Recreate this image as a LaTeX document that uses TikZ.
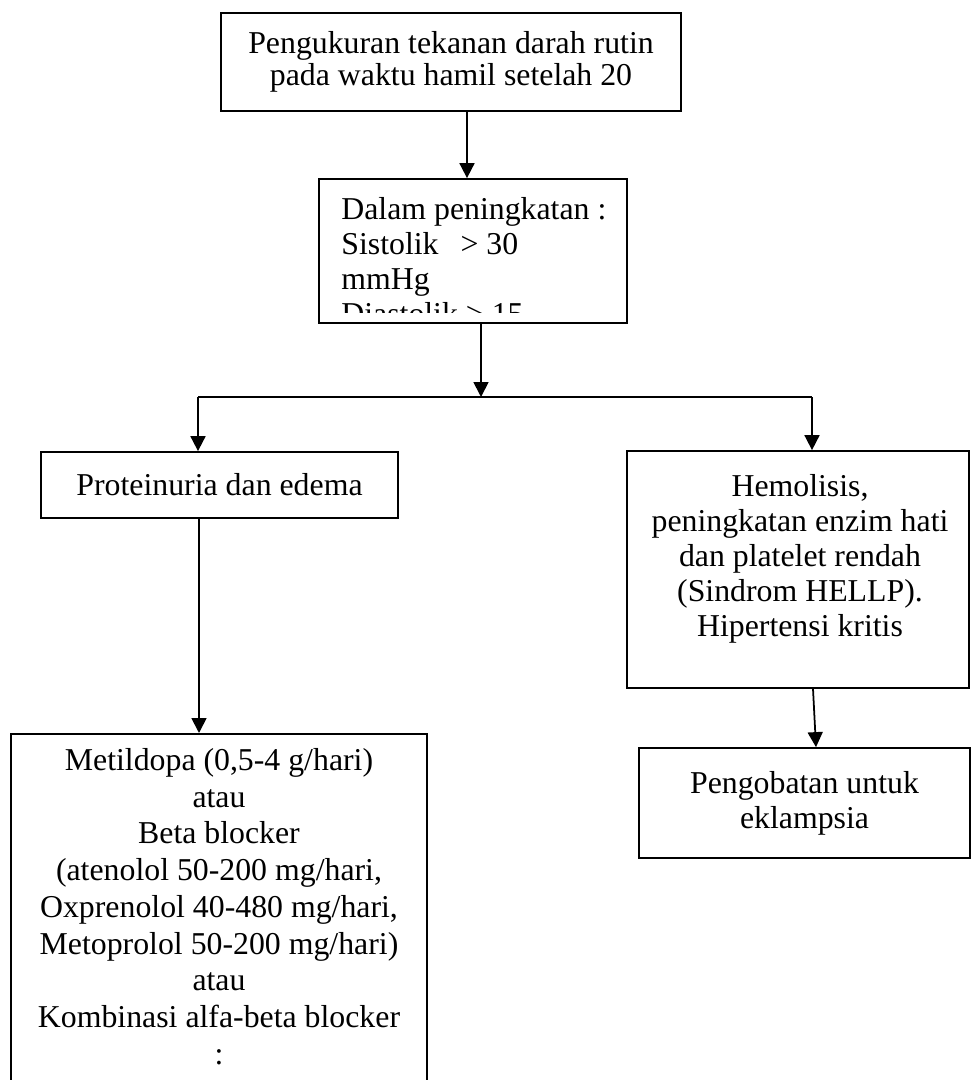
\documentclass[tikz,border=0pt]{standalone}
\usepackage{fontspec}
\setmainfont{Liberation Serif}
\usepackage{tikz}
\usetikzlibrary{arrows.meta}

\begin{document}
\begin{tikzpicture}[
    kotak/.style={draw, line width=1pt, inner sep=0pt, align=center},
    teks/.style={inner sep=0pt, align=center},
    panah/.style={line width=1pt, -{Triangle[length=3mm,width=3mm]}},
    font=\fontsize{18.1}{19.9}\selectfont]
\useasboundingbox (0,0) rectangle (19.42,-21.6);
            % kotak atas
            \node[kotak, minimum width=9.2cm, minimum height=1.96cm, font=\fontsize{18.1}{18.2}\selectfont] (ukur) at (9.02,-1.24)
                {Pengukuran tekanan darah rutin\\pada waktu hamil setelah 20};
            \node[kotak, minimum width=6.16cm, minimum height=2.88cm] (naik) at (9.46,-5.02) {};
            \begin{scope}
                \clip (6.38,-3.58) rectangle (12.54,-6.24);
                \node[inner sep=0pt, align=left, anchor=north west] (naiktxt) at (6.82,-3.94)
                    {Dalam peningkatan :\\Sistolik\hspace*{0.44cm}> 30\\mmHg\\Diastolik > 15};
            \end{scope}
            \draw [panah] ([xshift=3.2mm]ukur.south) -- ([xshift=3.2mm]ukur.south |- naik.north);
            % cabang
            \coordinate (cabang) at (9.62,-7.94);
            \coordinate (kiri) at (3.96,-7.94);
            \coordinate (kanan) at (16.24,-7.94);
            \draw [panah] ([xshift=1.6mm]naik.south) -- (cabang);
            \draw [line width=1pt] (kiri) -- (kanan);
            \node[kotak, minimum width=7.14cm, minimum height=1.32cm] (protein) at (4.39,-9.70) {Proteinuria dan edema};
            \node[kotak, minimum width=6.84cm, minimum height=4.74cm] (hellp) at (15.96,-11.39) {};
            \node[teks] (hellptxt) at (16.0,-11.18)
                {Hemolisis,\\peningkatan enzim hati\\dan platelet rendah\\(Sindrom HELLP).\\Hipertensi kritis};
            \draw [panah] (kiri) -- (kiri |- protein.north);
            \draw [panah] (kanan) -- (kanan |- hellp.north);
            % kotak bawah
            \node[kotak, anchor=north, minimum width=8.32cm, minimum height=7.4cm] (terapi) at (4.38,-14.66) {};
            \node[teks, anchor=north, font=\fontsize{18.1}{20.9}\selectfont] (terapitxt) at (4.38,-14.96)
                {Metildopa (0,5-4 g/hari)\\atau\\Beta blocker\\(atenolol 50-200 mg/hari,\\Oxprenolol 40-480 mg/hari,\\Metoprolol 50-200 mg/hari)\\atau\\Kombinasi alfa-beta blocker\\:};
            \node[kotak, minimum width=6.62cm, minimum height=2.2cm] (obat) at (16.09,-16.06) {Pengobatan untuk\\eklampsia};
            \draw [panah] ([xshift=-4.1mm]protein.south) -- ([xshift=-4.1mm]protein.south |- terapi.north);
            \draw [panah] ([xshift=3mm]hellp.south) -- ([xshift=2.3mm]obat.north);
\end{tikzpicture}
\end{document}
